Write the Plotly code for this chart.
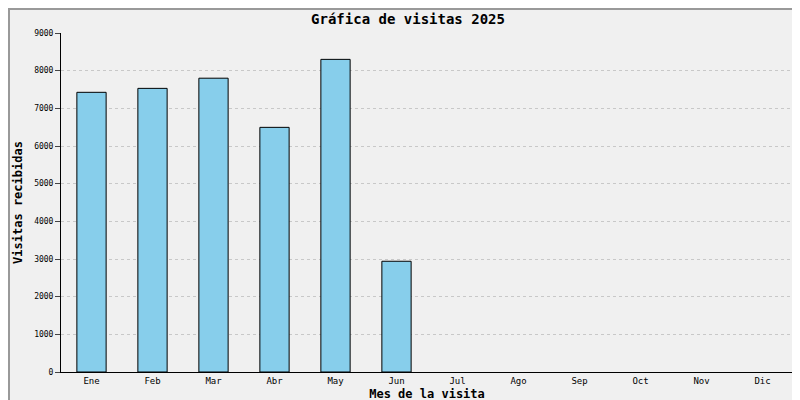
import plotly.graph_objects as go

months = ["Ene","Feb","Mar","Abr","May","Jun","Jul","Ago","Sep","Oct","Nov","Dic"]
visits = [7425, 7530, 7800, 6495, 8300, 2940, None, None, None, None, None, None]
y_ticks = [0,1000,2000,3000,4000,5000,6000,7000,8000,9000]

fig = go.Figure(go.Bar(x=months, y=visits, marker=dict(color="#87ceeb", line=dict(color="black", width=1)), width=0.48))
font = "DejaVu Sans Mono"
fig.update_layout(
    width=800, height=400, paper_bgcolor="#f0f0f0", plot_bgcolor="#f0f0f0",
    margin=dict(l=53, r=15, t=25, b=36, autoexpand=False),
    title=dict(text="<b>Gráfica de visitas 2025</b>", x=0.5, y=0.985, yanchor="top", font=dict(family=font, size=14, color="black")),
    font=dict(family=font, color="black"),
    xaxis=dict(title=dict(text="<b>Mes de la visita</b>", font=dict(size=12), standoff=4), tickfont=dict(size=9),
               showline=True, linecolor="black", showgrid=False, ticks="", automargin=False,
               categoryorder="array", categoryarray=months),
    yaxis=dict(title=dict(text="<b>Visitas recibidas</b>", font=dict(size=12), standoff=8), tickfont=dict(size=8),
               range=[0,9000], tickvals=y_ticks, showline=True, linecolor="black", ticks="outside", ticklen=5,
               gridcolor="#c8c8c8", griddash="dot", zeroline=False, automargin=False),
    shapes=[dict(type="rect", xref="paper", yref="paper", x0=-52/732, x1=1+14/732, y0=-35/339, y1=1+24/339,
                 line=dict(color="#999999", width=2))],
)
fig.write_html("out.html")
